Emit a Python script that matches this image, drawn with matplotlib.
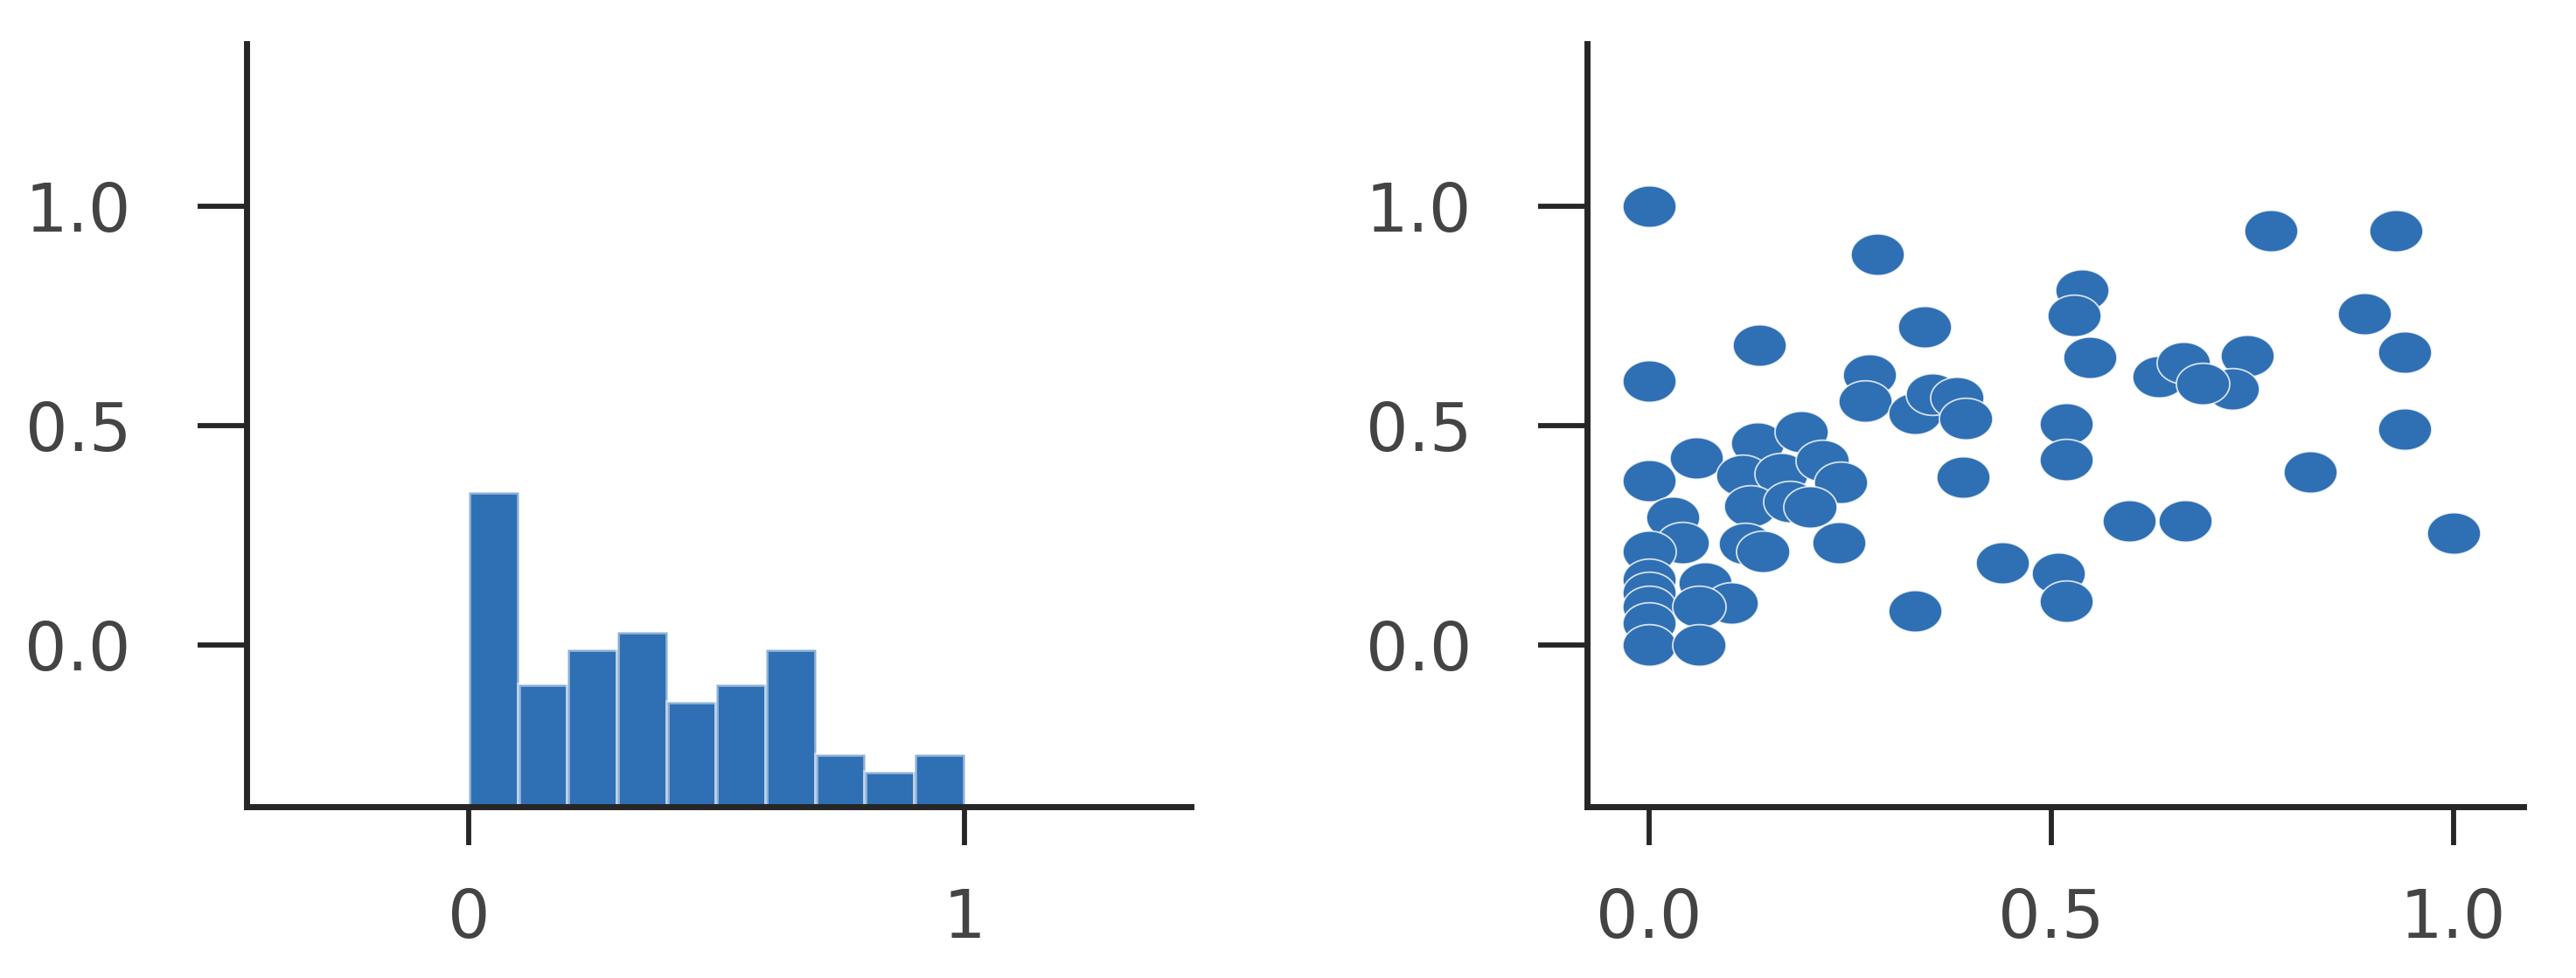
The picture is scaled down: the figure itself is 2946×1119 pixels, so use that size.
import numpy as np
import matplotlib
matplotlib.use("Agg")
import matplotlib.pyplot as plt
from matplotlib.path import Path

# ---------------- data ----------------
hist_edges = [0.0, 0.1, 0.2, 0.3, 0.4, 0.5, 0.6, 0.7, 0.8, 0.9, 1.0]
hist_counts = [18, 7, 9, 10, 6, 7, 9, 3, 2, 3]

scatter_x = [0.0, 0.059, 0.135, 0.189, 0.117, 0.164, 0.215, 0.238, 0.126, 0.175,
             0.200, 0.030, 0.042, 0.0, 0.120, 0.142, 0.236, 0.0, 0.0, 0.0,
             0.0, 0.070, 0.102, 0.062, 0.0, 0.062,
             0.0, 0.284, 0.343, 0.137, 0.0, 0.274, 0.269, 0.331, 0.352, 0.383,
             0.394, 0.390, 0.331, 0.439,
             0.773, 0.929, 0.538, 0.529, 0.890, 0.548, 0.940, 0.634, 0.665, 0.744,
             0.725, 0.688, 0.519, 0.519, 0.940, 0.822, 0.597, 0.667, 1.0, 0.509,
             0.519]
scatter_y = [0.374, 0.427, 0.460, 0.487, 0.387, 0.390, 0.420, 0.370, 0.317, 0.327,
             0.314, 0.290, 0.234, 0.214, 0.231, 0.214, 0.234, 0.150, 0.120, 0.088,
             0.050, 0.141, 0.095, 0.088, 0.0, 0.0,
             1.0, 0.891, 0.725, 0.683, 0.602, 0.616, 0.557, 0.529, 0.572, 0.565,
             0.517, 0.382, 0.077, 0.188,
             0.945, 0.945, 0.810, 0.751, 0.755, 0.656, 0.668, 0.612, 0.644, 0.660,
             0.584, 0.596, 0.505, 0.422, 0.493, 0.394, 0.283, 0.283, 0.256, 0.163,
             0.100]

y_ticks = [0.0, 0.5, 1.0]
y_ticklabels = ["0.0", "0.5", "1.0"]
left_x_ticks = [0, 1]
left_x_ticklabels = ["0", "1"]
right_x_ticks = [0.0, 0.5, 1.0]
right_x_ticklabels = ["0.0", "0.5", "1.0"]

# ---------------- style ----------------
BLUE = "#2f6fb4"
TEXT = "#444444"
SPINE = "#262626"
plt.rcParams["font.family"] = ["DejaVu Sans"]

fig = plt.figure(figsize=(29.46, 11.19), dpi=100)
ax1 = fig.add_axes([0.0957, 0.1752, 0.3666, 0.7802])
ax2 = fig.add_axes([0.6161, 0.1752, 0.3637, 0.7802])

ylim = (-0.369, 1.372)

for ax in (ax1, ax2):
    ax.set_ylim(*ylim)
    for s in ("top", "right"):
        ax.spines[s].set_visible(False)
    for s in ("left", "bottom"):
        ax.spines[s].set_linewidth(5)
        ax.spines[s].set_color(SPINE)
        ax.spines[s].set_capstyle("projecting")
    ax.set_yticks(y_ticks)
    ax.set_yticklabels(y_ticklabels)
    ax.tick_params(axis="y", length=40, width=4.2, color=SPINE, pad=55,
                   labelsize=55, labelcolor=TEXT)
    ax.tick_params(axis="x", length=32, width=4.2, color=SPINE, pad=34,
                   labelsize=55, labelcolor=TEXT)
    ax.set_facecolor("none")

# left: histogram on a hidden twin axis
ax1.set_xlim(-0.448, 1.457)
ax1.set_xticks(left_x_ticks)
ax1.set_xticklabels(left_x_ticklabels)
axh = ax1.twinx()
axh.set_zorder(ax1.get_zorder() - 1)
axh.set_ylim(0, 43.7)
axh.axis("off")
widths = np.diff(hist_edges)
axh.bar(hist_edges[:-1], hist_counts, width=widths, align="edge",
        color=BLUE, edgecolor=(1, 1, 1, 0.45), linewidth=3.5)

# right: scatter with elliptical markers
t = np.linspace(0, 2 * np.pi, 72)
ell = Path(np.column_stack([np.cos(t), 0.78 * np.sin(t)]), closed=True)
ax2.set_xlim(-0.077, 1.088)
ax2.set_xticks(right_x_ticks)
ax2.set_xticklabels(right_x_ticklabels)
ax2.scatter(scatter_x, scatter_y, s=44 ** 2, marker=ell, color=BLUE,
            edgecolors=(1, 1, 1, 0.8), linewidths=1.3, zorder=3)

fig.savefig("out.png", dpi=100, facecolor="white")
